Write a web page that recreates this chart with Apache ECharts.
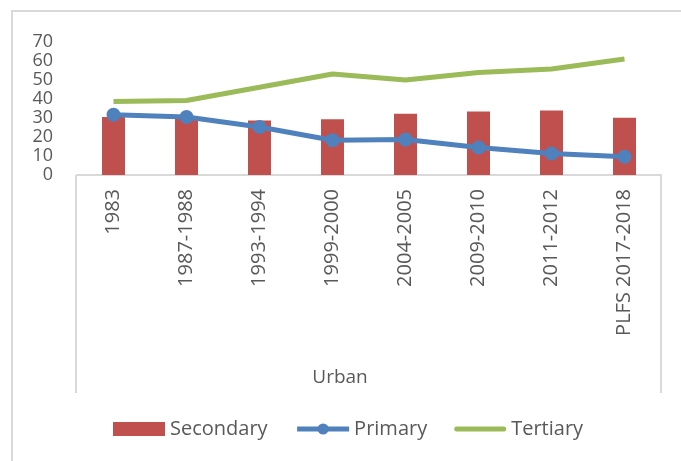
<!DOCTYPE html>
<html>
<head>
<meta charset="utf-8">
<script src="https://cdn.jsdelivr.net/npm/echarts@6/dist/echarts.min.js"></script>
<style>
  html, body { margin: 0; padding: 0; background: #fff; }
  #chart { width: 681px; height: 461px; }
</style>
</head>
<body>
<div id="chart"></div>
<script>
  // data
  var categories = ['1983', '1987-1988', '1993-1994', '1999-2000', '2004-2005', '2009-2010', '2011-2012', 'PLFS 2017-2018'];
  var secondary = [30.4, 30.2, 28.6, 29.2, 32.1, 33.3, 33.8, 30.0];
  var primary = [31.6, 30.4, 25.2, 18.2, 18.6, 14.4, 11.3, 9.6];
  var tertiary = [38.5, 39.1, 46.0, 53.0, 49.8, 53.8, 55.6, 60.8];

  var textColor = '#595959';
  var font = 'Open Sans';
  var gridLeft = 77, gridRight = 661, gridTop = 41.5, gridBottom = 175;

  var chart = echarts.init(document.getElementById('chart'));
  chart.setOption({
    animation: false,
    backgroundColor: '#fff',
    textStyle: { fontFamily: font, color: textColor },
    grid: {
      left: gridLeft,
      right: 681 - gridRight,
      top: gridTop,
      bottom: 461 - gridBottom,
      containLabel: false
    },
    legend: {
      left: 108,
      top: 414,
      itemWidth: 52,
      itemHeight: 14,
      itemGap: 27,
      textStyle: { fontSize: 20, color: textColor, fontFamily: font },
      data: [
        { name: 'Secondary', icon: 'rect' },
        { name: 'Primary', lineStyle: { width: 5 } },
        { name: 'Tertiary', icon: 'path://M2.5,0 L49.5,0 A2.5,2.5 0 0 1 49.5,5 L2.5,5 A2.5,2.5 0 0 1 2.5,0 Z' }
      ]
    },
    xAxis: {
      type: 'category',
      data: categories,
      name: 'Urban',
      nameLocation: 'middle',
      nameGap: 193,
      nameTextStyle: { fontSize: 19, color: textColor, fontFamily: font, padding: [0, 58, 0, 0] },
      axisLine: { lineStyle: { color: '#d9d9d9', width: 2 } },
      axisTick: { show: false },
      axisLabel: { rotate: 90, margin: 14, fontSize: 20, color: textColor, fontFamily: font, interval: 0 }
    },
    yAxis: {
      type: 'value',
      min: 0,
      max: 70,
      interval: 10,
      axisLine: { show: false },
      axisTick: { show: false },
      splitLine: { show: false },
      axisLabel: {
        margin: 24, fontSize: 18, color: textColor, fontFamily: font,
        showMinLabel: true, showMaxLabel: true, hideOverlap: false
      }
    },
    graphic: [
      // outer frame
      { type: 'rect', shape: { x: 12, y: 11, width: 700, height: 480 }, style: { fill: 'none', stroke: '#d9d9d9', lineWidth: 2 }, silent: true },
      // category box sides
      { type: 'line', shape: { x1: gridLeft - 1, y1: gridBottom, x2: gridLeft - 1, y2: 393 }, style: { stroke: '#d9d9d9', lineWidth: 2 }, silent: true },
      { type: 'line', shape: { x1: gridRight, y1: gridBottom, x2: gridRight, y2: 393 }, style: { stroke: '#d9d9d9', lineWidth: 2 }, silent: true }
    ],
    series: [
      {
        name: 'Secondary',
        type: 'bar',
        data: secondary,
        barWidth: 23,
        itemStyle: { color: '#C0504D' }
      },
      {
        name: 'Primary',
        type: 'line',
        data: primary,
        symbol: 'circle',
        symbolSize: 14,
        lineStyle: { color: '#4F81BD', width: 5 },
        itemStyle: { color: '#4F81BD' }
      },
      {
        name: 'Tertiary',
        type: 'line',
        data: tertiary,
        symbol: 'none',
        lineStyle: { color: '#9BBB59', width: 5 },
        itemStyle: { color: '#9BBB59' }
      }
    ]
  });
</script>
</body>
</html>
